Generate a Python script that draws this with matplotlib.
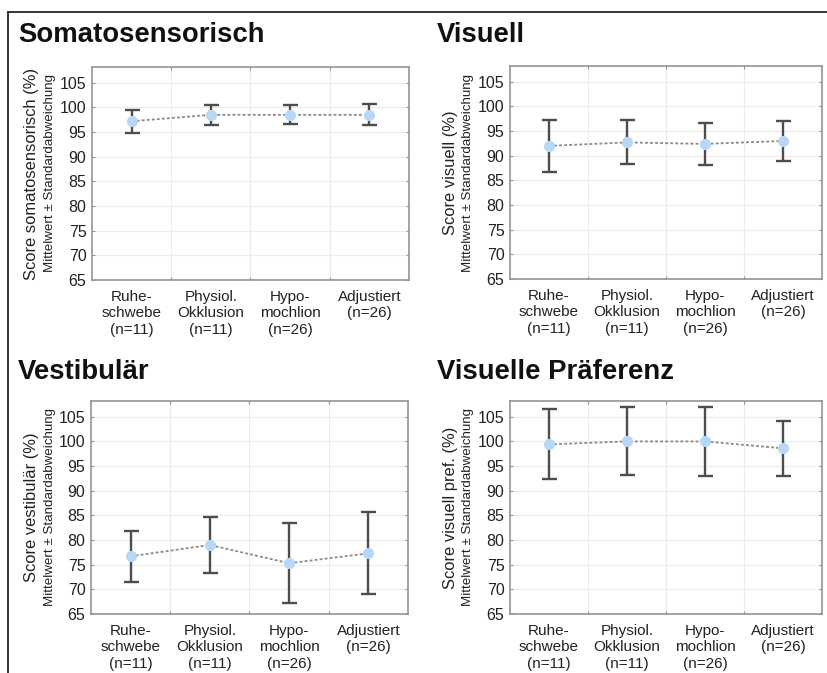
"""
Four panels: mean score +/- SD per stance condition.
"""

import matplotlib
matplotlib.use('Agg')
import matplotlib.pyplot as plt
from matplotlib.lines import Line2D

plt.rcParams['font.family'] = ['Liberation Sans', 'DejaVu Sans']

categories = ['Ruhe-\nschwebe\n(n=11)', 'Physiol.\nOkklusion\n(n=11)',
              'Hypo-\nmochlion\n(n=26)', 'Adjustiert\n(n=26)']

yticks = [65, 70, 75, 80, 85, 90, 95, 100, 105]

titles = ['Somatosensorisch', 'Visuell', 'Vestibulär', 'Visuelle Präferenz']
ylabels = ['Score somatosensorisch (%)', 'Score visuell (%)',
           'Score vestibulär (%)', 'Score visuell pref. (%)']
sublabel = 'Mittelwert ± Standardabweichung'

soma_mean = [97.2, 98.5, 98.5, 98.5]
soma_sd = [2.3, 2.0, 1.9, 2.1]

vis_mean = [92.0, 92.7, 92.4, 93.0]
vis_sd = [5.2, 4.45, 4.25, 4.0]

vest_mean = [76.7, 79.0, 75.3, 77.3]
vest_sd = [5.15, 5.65, 8.15, 8.3]

pref_mean = [99.4, 100.0, 100.0, 98.6]
pref_sd = [7.1, 6.9, 6.95, 5.6]

means = [soma_mean, vis_mean, vest_mean, pref_mean]
sds = [soma_sd, vis_sd, vest_sd, pref_sd]

W, H = 828, 673
fig = plt.figure(figsize=(W / 100, H / 100), dpi=100)

# axes boxes in pixels: left, right, top, bottom
boxes = [(92, 409, 67, 280), (510, 822, 66, 279),
         (91, 408, 401, 614), (510, 822, 401, 614)]
title_pos = [(18, 42), (437, 42), (18, 379), (437, 379)]
label_x = [(32, 50), (451, 468), (32, 50), (451, 468)]

spine_col = '#8c9898'
x = list(range(len(categories)))

for i in range(4):
    l, r, t, b = boxes[i]
    ax = fig.add_axes([l / W, (H - b) / H, (r - l) / W, (b - t) / H])

    ax.plot(x, means[i], linestyle=(0, (1.6, 1.2)), color='#8a8a8a', lw=1.3, zorder=2)
    ax.errorbar(x, means[i], yerr=sds[i], fmt='none', ecolor='#4d4d4d',
                elinewidth=1.7, capsize=5.4, capthick=1.7, zorder=3)
    ax.plot(x, means[i], 'o', color='#b6d7f5', markersize=7, zorder=4)

    ax.set_xlim(-0.5, 3.5)
    ax.set_ylim(65, 108.2)
    ax.set_yticks(yticks)
    ax.set_xticks([0.5, 1.5, 2.5])
    ax.set_xticklabels([])
    ax.set_xticks(x, minor=True)
    ax.set_xticklabels(categories, minor=True, fontsize=11, color='#222222',
                       linespacing=1.25, va='top')
    ax.tick_params(axis='x', which='minor', length=0, pad=7)
    ax.tick_params(axis='x', which='major', direction='in', length=2,
                   color=spine_col, top=True)
    ax.tick_params(axis='y', direction='in', length=2, color=spine_col,
                   right=True, labelsize=11.5, labelcolor='#222222', pad=4)
    ax.grid(True, which='major', color='#ececec', lw=0.8)
    ax.set_axisbelow(True)
    for s in ax.spines.values():
        s.set_color(spine_col)
        s.set_linewidth(1.2)

    tx, ty = title_pos[i]
    fig.text(tx / W, (H - ty) / H, titles[i], fontsize=19.8, fontweight='bold',
             ha='left', va='baseline', color='#111111')

    cy = (H - (t + b) / 2) / H
    x1, x2 = label_x[i]
    fig.text(x1 / W, cy, ylabels[i], rotation=90, fontsize=11.9,
             ha='center', va='center', color='#222222')
    fig.text(x2 / W, cy, sublabel, rotation=90, fontsize=9.6,
             ha='center', va='center', color='#222222')

# frame lines along top and left edges
fig.add_artist(Line2D([8 / W, 1], [(H - 12) / H, (H - 12) / H], color='#333333', lw=1.4))
fig.add_artist(Line2D([8 / W, 8 / W], [0, (H - 12) / H], color='#333333', lw=1.4))

plt.savefig('out.png', dpi=100)
